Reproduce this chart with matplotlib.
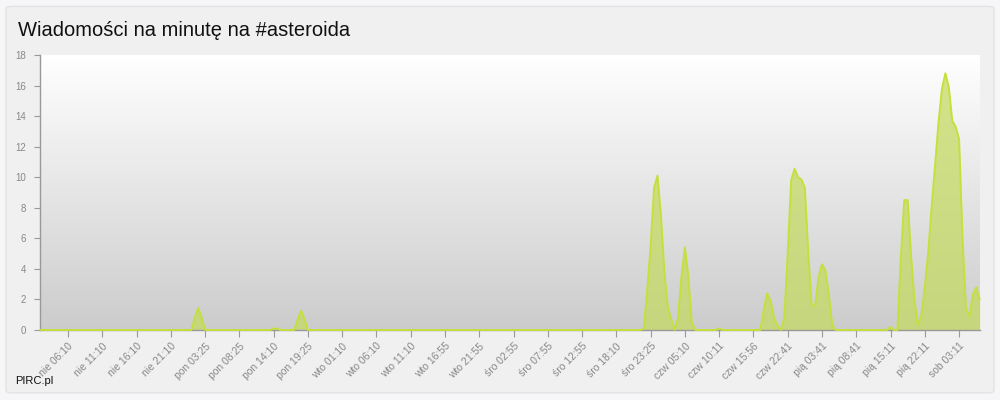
import matplotlib
matplotlib.use('Agg')
import matplotlib.pyplot as plt
import numpy as np
from matplotlib.patches import FancyBboxPatch

plt.rcParams['font.family'] = ['Liberation Sans', 'DejaVu Sans']

title = "Wiadomości na minutę na #asteroida"
footer = "PIRC.pl"

tick_labels = ["nie 06:10", "nie 11:10", "nie 16:10", "nie 21:10", "pon 03:25",
               "pon 08:25", "pon 14:10", "pon 19:25", "wto 01:10", "wto 06:10",
               "wto 11:10", "wto 16:55", "wto 21:55", "śro 02:55", "śro 07:55",
               "śro 12:55", "śro 18:10", "śro 23:25", "czw 05:10", "czw 10:11",
               "czw 15:56", "czw 22:41", "pią 03:41", "pią 08:41", "pią 15:11",
               "pią 22:11", "sob 03:11"]

# sample grid: positions in units of category ticks, step 0.1
x_start, x_end, step = -0.8, 26.6, 0.1

# non-zero stretches of the series: start position and values (messages/min)
seg_starts = [3.6, 5.9, 6.6, 16.8, 18.9, 20.2, 20.9, 23.9, 24.2]
seg_values = [
    [0, 0.8, 1.45, 0.8, 0],
    [0, 0.1, 0.1, 0],
    [0, 0.65, 1.26, 0.7, 0],
    [0.1, 2.6, 5.5, 9.3, 10.1, 7.5, 3.8, 1.5, 0.7, 0.0, 0.8, 3.5, 5.4, 3.5, 0.5, 0],
    [0, 0.1, 0],
    [0, 1.3, 2.4, 1.9, 0.8, 0.3, 0, 0.8, 5.0, 9.8, 10.55, 10.0, 9.85, 9.3, 5.0,
     1.6, 1.6, 3.5, 4.3, 3.9, 2.3, 0.3, 0],
    [],
    [0, 0.2, 0],
    [0, 4.7, 8.5, 8.5, 4.8, 1.9, 0.3, 1.0, 2.8, 5.1, 8.1, 10.8, 13.6, 15.8, 16.8,
     15.9, 13.7, 13.3, 12.5, 6.0, 1.4, 0.9, 2.3, 2.8, 2.0],
]

n = int(round((x_end - x_start) / step)) + 1
xs = x_start + step * np.arange(n)
vals = np.zeros(n)
for s, seg in zip(seg_starts, seg_values):
    i0 = int(round((s - x_start) / step))
    for j, v in enumerate(seg):
        if 0 <= i0 + j < n:
            vals[i0 + j] = v

fig = plt.figure(figsize=(10, 4), dpi=100, facecolor='#f6f6f8')
panel = FancyBboxPatch((0.006, 0.018), 0.988, 0.966,
                       boxstyle='round,pad=0,rounding_size=0.006',
                       transform=fig.transFigure, facecolor='#f0f0f0',
                       edgecolor='#e2e2e4', lw=1.0, zorder=-5)
fig.patches.append(panel)

ax = fig.add_axes([0.04, 0.175, 0.94, 0.6875])
ax.set_zorder(1)
ax.set_facecolor('none')

grad = np.linspace(1.0, 0.80, 256)
img = np.repeat(grad[:, None, None], 3, axis=2)
ax.imshow(img, extent=[0, 1, 0, 1], transform=ax.transAxes, aspect='auto',
          zorder=0, interpolation='bilinear')

ax.fill_between(xs, vals, 0, color='#c3da5f', alpha=0.72, lw=0, zorder=2)
ax.plot(xs, vals, color='#c4e03c', lw=1.4, zorder=3, solid_joinstyle='round',
        clip_on=False)

ax.set_xlim(-0.817, 26.61)
ax.set_ylim(0, 18)

for side in ['top', 'right']:
    ax.spines[side].set_visible(False)
for side in ['left', 'bottom']:
    ax.spines[side].set_color('#999999')
    ax.spines[side].set_linewidth(1.0)
ax.spines['bottom'].set_zorder(2.5)

ax.set_yticks(range(0, 19, 2))
ax.tick_params(axis='y', length=4, color='#999999', labelcolor='#888888',
               labelsize=7, pad=6)
ax.set_xticks(range(len(tick_labels)))
ax.set_xticklabels(tick_labels, rotation=45, ha='right', rotation_mode='anchor')
ax.tick_params(axis='x', length=5, color='#999999', labelcolor='#888888',
               labelsize=7.5, pad=3)

fig.text(0.018, 1 - 30 / 400, title, fontsize=14.5, va='center', ha='left',
         color='#111111')
fig.text(0.015, 1 - 381 / 400, footer, fontsize=8, va='center', ha='left',
         color='#111111')

fig.savefig('out.png', dpi=100, facecolor=fig.get_facecolor())
